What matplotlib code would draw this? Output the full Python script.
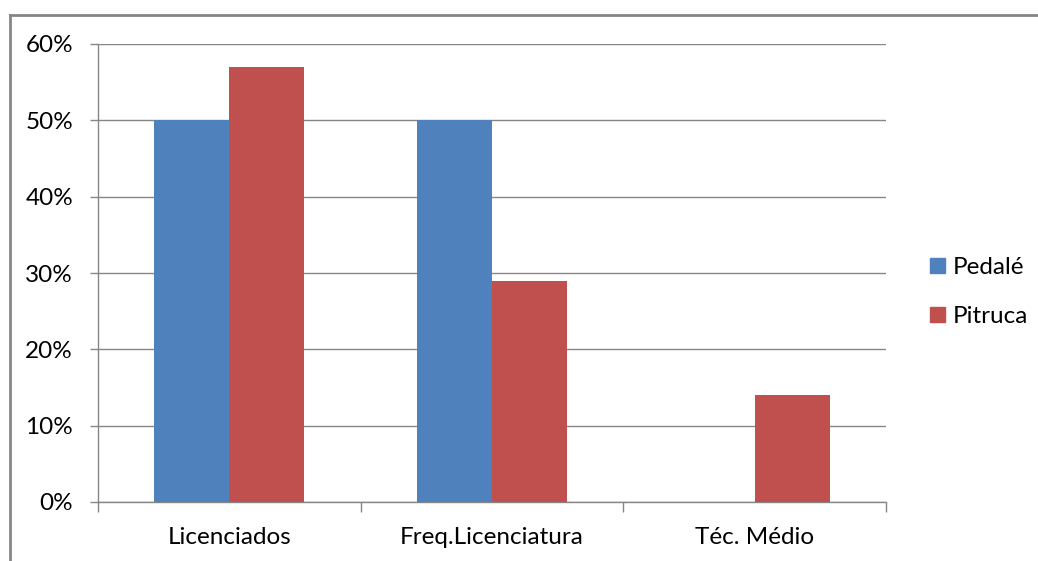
import numpy as np
import matplotlib.pyplot as plt
from matplotlib.patches import Rectangle
from matplotlib.lines import Line2D

categories = ['Licenciados', 'Freq.Licenciatura', 'Téc. Médio']
pedale = [50, 50, 0]
pitruca = [57, 29, 14]
series_names = ['Pedalé', 'Pitruca']
y_ticks = [0, 10, 20, 30, 40, 50, 60]

plt.rcParams['font.family'] = ['Lato', 'DejaVu Sans']

blue = '#4f81bd'
red = '#c0504d'
grid_c = '#868686'
fs = 17.5

fig = plt.figure(figsize=(10.38, 5.61), dpi=100)
# outer chart frame (top and left edges)
fig.add_artist(Line2D([10/1038, 1], [1 - 15/561, 1 - 15/561], color=grid_c, lw=2, transform=fig.transFigure))
fig.add_artist(Line2D([10/1038, 10/1038], [0, 1 - 15/561], color=grid_c, lw=2, transform=fig.transFigure))

ax = fig.add_axes([98/1038, 1 - 502/561, (886 - 98)/1038, (502 - 44)/561])

x = np.arange(len(categories))
w = 75 / 262.7
ax.bar(x - w/2, pedale, w, color=blue, label=series_names[0], zorder=3)
ax.bar(x + w/2, pitruca, w, color=red, label=series_names[1], zorder=3)

ax.set_xlim(-0.5, len(categories) - 0.5)
ax.set_ylim(0, 60)
ax.set_yticks(y_ticks)
ax.set_yticklabels([f'{v}%' for v in y_ticks], fontsize=fs)
ax.yaxis.grid(True, color=grid_c, lw=1, zorder=0)
ax.set_xticks(x)
ax.set_xticklabels(categories, fontsize=fs)
ax.tick_params(axis='x', length=0, pad=18)
ax.set_xticks(np.arange(len(categories) + 1) - 0.5, minor=True)
ax.tick_params(axis='x', which='minor', length=7, color=grid_c, width=1)
ax.tick_params(axis='y', length=6, color=grid_c, width=1, pad=12)

for s in ['top', 'right']:
    ax.spines[s].set_visible(False)
for s in ['left', 'bottom']:
    ax.spines[s].set_color(grid_c)
    ax.spines[s].set_linewidth(1)

handles = [Rectangle((0, 0), 1, 1, color=blue), Rectangle((0, 0), 1, 1, color=red)]
fig.legend(handles, series_names, loc='center left', bbox_to_anchor=(930/1038, 1 - 292/561),
           frameon=False, fontsize=fs, handlelength=0.62, handleheight=0.62,
           handletextpad=0.3, labelspacing=1.15, borderpad=0, borderaxespad=0)

fig.savefig('out.png', dpi=100)
